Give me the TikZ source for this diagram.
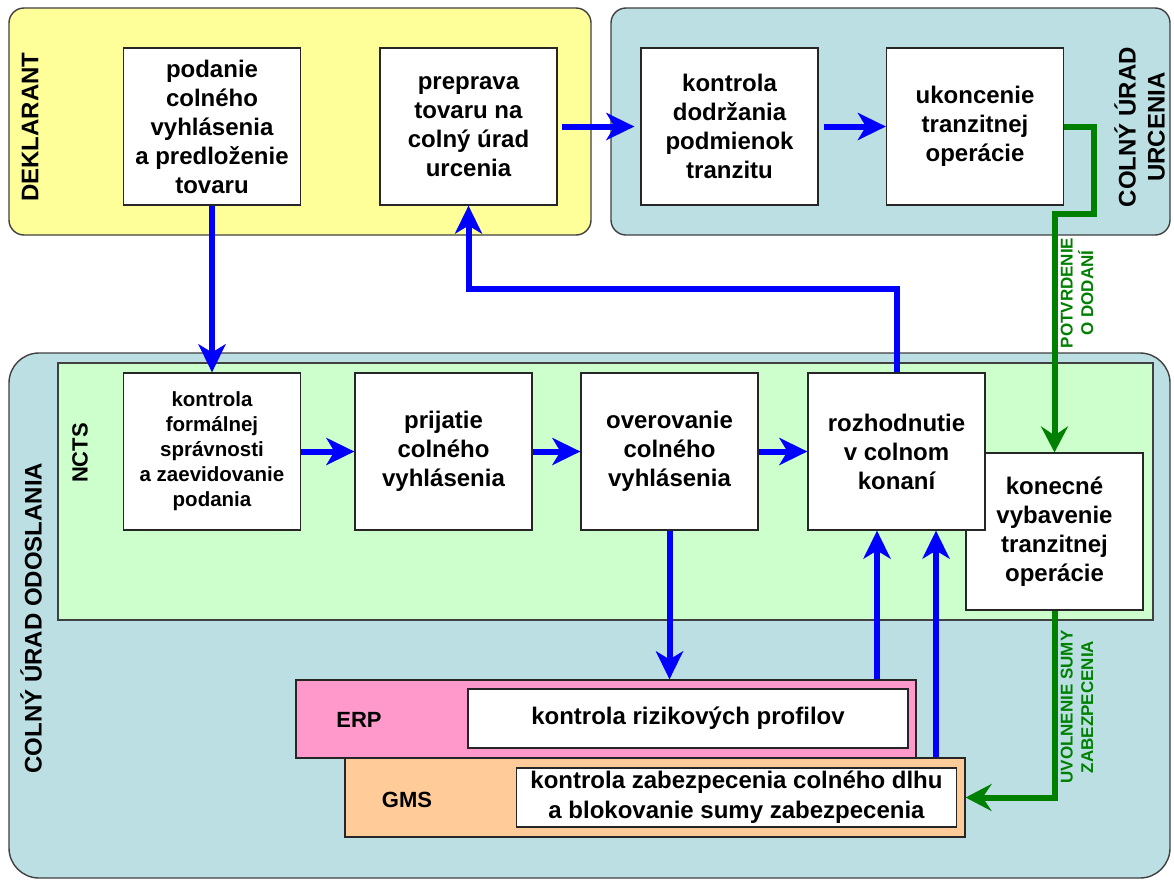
\documentclass[tikz,border=0pt]{standalone}
\usepackage{fontspec}
\setmainfont{Liberation Sans}
\usetikzlibrary{arrows.meta}
\definecolor{deklyellow}{HTML}{FFFF99}
\definecolor{officeteal}{HTML}{BBDFE3}
\definecolor{nctsgreen}{HTML}{CCFFCC}
\definecolor{erppink}{HTML}{FF99CC}
\definecolor{gmspeach}{HTML}{FFCC99}
\definecolor{flowblue}{HTML}{0000FF}
\definecolor{flowgreen}{HTML}{008000}

\begin{document}
\begin{tikzpicture}[x=1pt,y=-1pt,
  panel/.style={draw=black!75, line width=1.4pt, inner sep=0pt},
  stepbox/.style={draw=black!85, line width=1.2pt, fill=white,
    minimum width=177pt, minimum height=157pt, inner sep=0pt,
    align=center, font=\bfseries\fontsize{24}{29}\selectfont},
  smallstep/.style={stepbox, font=\bfseries\fontsize{20.5}{25}\selectfont},
  sysbox/.style={draw=black!85, line width=1.2pt, minimum width=620pt,
    minimum height=78pt, inner sep=0pt},
  sysinner/.style={draw=black!85, line width=1.2pt, fill=white,
    minimum width=440pt, minimum height=59pt, inner sep=0pt,
    align=center, font=\bfseries\fontsize{24}{30}\selectfont},
  syslabel/.style={font=\bfseries\fontsize{22}{26}\selectfont, inner sep=0pt},
  sidelabel/.style={rotate=90, align=center, inner sep=0pt,
    font=\bfseries\fontsize{24}{29}\selectfont},
  flowlabel/.style={rotate=90, align=center, inner sep=0pt, text=flowgreen,
    font=\bfseries\fontsize{17}{20.5}\selectfont},
  blueflow/.style={draw=flowblue, line width=6pt,
    -{Stealth[length=28pt, width=27pt, inset=8pt]}},
  greenflow/.style={draw=flowgreen, line width=6pt,
    -{Stealth[length=26pt, width=27pt, inset=9pt]}}
]
% canvas
\fill[white] (0,0) rectangle (1174,884);
\useasboundingbox (0,0) rectangle (1174,884);

% organisational panels
\node[panel, fill=deklyellow, rounded corners=15pt, minimum width=582pt, minimum height=227pt] (dekl) at (300,121.5) {};
\node[panel, fill=officeteal, rounded corners=15pt, minimum width=559pt, minimum height=227pt] (urc) at (890.5,121.5) {};
\node[panel, fill=officeteal, rounded corners=30pt, minimum width=1161pt, minimum height=525pt] (odos) at (589.5,615.5) {};
\node[panel, fill=nctsgreen, minimum width=1095pt, minimum height=257pt] (ncts) at (605.5,491.5) {};

\node[sidelabel] (dekllab) at (30,127) {DEKLARANT};
\node[sidelabel] (urclab) at (1139.5,127) {COLNÝ ÚRAD\\URCENIA};
\node[sidelabel] (odoslab) at (31,618) {COLNÝ ÚRAD ODOSLANIA};
\node[sidelabel, font=\bfseries\fontsize{22}{26}\selectfont] (nctslab) at (80,453) {NCTS};

% declarant and destination office steps
\node[stepbox] (b1) at (212,126.5) {podanie\\colného\\vyhlásenia\\a predloženie\\tovaru};
\node[stepbox] (b2) at (468.5,126.5) {preprava\\tovaru na\\colný úrad\\urcenia};
\node[stepbox] (b3) at (729.5,126.5) {kontrola\\dodržania\\podmienok\\tranzitu};
\node[stepbox] (b4) at (975,126.5) {ukoncenie\\tranzitnej\\operácie};

% departure office steps in NCTS
\node[smallstep] (b5) at (212,451.5) {kontrola\\formálnej\\správnosti\\a zaevidovanie\\podania};
\node[stepbox] (b6) at (443.5,451.5) {prijatie\\colného\\vyhlásenia};
\node[stepbox] (b7) at (669.5,451.5) {overovanie\\colného\\vyhlásenia};
\node[stepbox] (b9) at (1054.5,531.5) {konecné\\vybavenie\\tranzitnej\\operácie};
\node[stepbox] (b8) at (896.5,451.5) {rozhodnutie\\v colnom\\konaní};

% supporting systems
\node[sysbox, fill=erppink] (erp) at (606,719) {};
\node[sysinner] (erpin) at (688,718.5) {kontrola rizikových profilov};
\node[syslabel] (erplab) at (359,720) {ERP};
\node[sysbox, fill=gmspeach, minimum height=79pt] (gms) at (655,797.5) {};
\node[sysinner] (gmsin) at (736.5,797.5) {kontrola zabezpecenia colného dlhu\\a blokovanie sumy zabezpecenia};
\node[syslabel] (gmslab) at (407,800) {GMS};

% blue process flow
\draw[blueflow] (b1.south) -- (b5.north);
\draw[blueflow, shorten <=4pt, shorten >=6pt] (b2.east) -- (b3.west);
\draw[blueflow, shorten <=5pt] (b3.east) -- (b4.west);
\draw[blueflow] (b5.east) -- (b6.west);
\draw[blueflow] (b6.east) -- (b7.west);
\draw[blueflow] (b7.east) -- (b8.west);
\draw[blueflow] (b8.north) -- ++(0,-83) -| (b2.south);
\draw[blueflow] (b7.south) -- (b7.south |- erp.north);
\coordinate (erpup) at (877,0);
\coordinate (gmsup) at (936,0);
\draw[blueflow] (erp.north -| erpup) -- (b8.south -| erpup);
\draw[blueflow] (gms.north -| gmsup) -- (b8.south -| gmsup);

% green messages
\coordinate (gbend) at (1094,214);
\draw[greenflow] (b4.east) -| (gbend) -| (b9.north);
\draw[greenflow] (b9.south) |- (gms.east);
\node[flowlabel] (potvr) at (1077,293) {POTVRDENIE\\O DODANÍ};
\node[flowlabel] (uvol) at (1077,707) {UVOLNENIE SUMY\\ZABEZPECENIA};
\end{tikzpicture}
\end{document}
